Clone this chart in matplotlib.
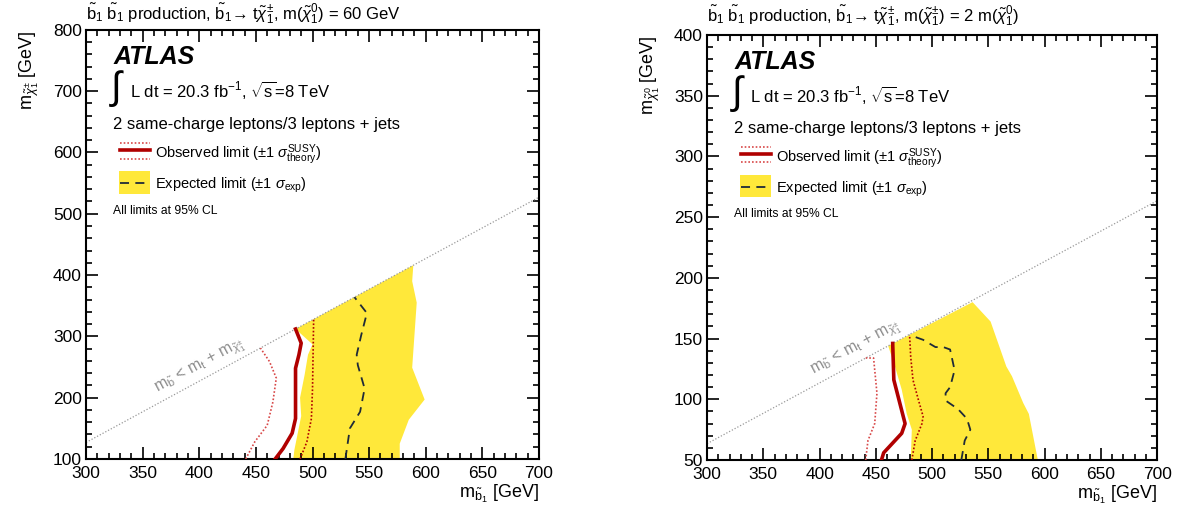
import numpy as np
import matplotlib
matplotlib.use("Agg")
import matplotlib.pyplot as plt
from matplotlib.patches import Rectangle
from matplotlib.ticker import MultipleLocator

plt.rcParams["font.family"] = ["Liberation Sans", "DejaVu Sans"]
plt.rcParams["mathtext.fontset"] = "custom"
plt.rcParams["mathtext.rm"] = "Liberation Sans"
plt.rcParams["mathtext.it"] = "Liberation Sans:italic"
plt.rcParams["mathtext.bf"] = "Liberation Sans:bold"
plt.rcParams["mathtext.sf"] = "Liberation Sans"

M_TOP = 173.0

# ---- left panel: m(chi0) = 60 GeV, y = m(chi+-) ----
l_obs_x = [467, 474, 482, 485, 485, 488, 490, 485]
l_obs_y = [100, 117, 142, 166, 248, 270, 289, 312]
l_obs_dn_x = [441, 449, 460, 465, 468, 462, 454]
l_obs_dn_y = [100, 128, 155, 193, 232, 259, 281]
l_obs_up_x = [489, 495, 499, 500, 501]
l_obs_up_y = [100, 128, 166, 215, 328]
l_exp_x = [529, 533, 542, 546, 540, 539, 543, 548, 537]
l_exp_y = [100, 150, 177, 215, 253, 270, 302, 338, 364]
l_band_lo_x = [483, 484, 490, 489, 493, 496, 500, 485]
l_band_lo_y = [100, 115, 170, 200, 237, 270, 287, 312]
l_band_hi_x = [589, 588, 592, 588, 599, 585, 577, 577]
l_band_hi_y = [416, 390, 355, 249, 197, 164, 125, 100]

# ---- right panel: m(chi+-) = 2 m(chi0), y = m(chi0) ----
r_obs_x = [455, 457, 473, 476, 466, 465]
r_obs_y = [50, 56, 72, 80, 116, 146]
r_obs_dn_x = [441, 443, 449, 451, 448, 441]
r_obs_dn_y = [50, 66, 80, 105, 134, 134]
r_obs_up_x = [482, 485, 491, 492, 488, 483, 481, 480]
r_obs_up_y = [50, 66, 80, 86, 99, 116, 135, 153]
r_exp_x = [526, 529, 534, 531, 523, 512, 512, 516, 520, 516, 510, 503, 492, 480]
r_exp_y = [50, 66, 75, 84, 92, 99, 105, 110, 124, 141, 143, 143, 149, 153]
r_band_lo_x = [481, 482, 477.5, 473, 467, 461]
r_band_lo_y = [50, 75, 88, 108, 127, 144]
r_band_hi_x = [536, 552, 566, 571, 581, 586, 594]
r_band_hi_y = [180, 164, 127, 119, 97, 88, 50]

YELLOW = "#ffe83a"
OBS = "#b00000"
THEO_UP = "#b00000"
THEO_DN = "#d84848"
EXP = "#1f2a38"
GREY = "#999999"


def draw_panel(ax, band_lo, band_hi, obs, obs_dn, obs_up, exp, chi_div, ylim, ymaj, ymin,
               ylabel, diag_xy):
    bx = list(band_lo[0]) + list(band_hi[0])
    by = list(band_lo[1]) + list(band_hi[1])
    ax.fill(bx, by, color=YELLOW, lw=0, zorder=1)
    ax.plot(*exp, color=EXP, lw=1.3, ls=(0, (5, 3.5)), zorder=3)
    ax.plot(*obs_dn, color=THEO_DN, lw=1.2, ls=(0, (1, 1.2)), zorder=3)
    ax.plot(*obs_up, color=THEO_UP, lw=1.2, ls=(0, (1, 1.2)), zorder=3)
    ax.plot(*obs, color=OBS, lw=2.6, zorder=4)

    xs = np.array([300.0, 700.0])
    ax.plot(xs, (xs - M_TOP) / chi_div, color=GREY, lw=0.9, ls=(0, (1, 1.5)), zorder=2)
    ax.text(diag_xy[0], diag_xy[1],
            r"m$_{\tilde{\mathrm{b}}}$ < m$_{\mathrm{t}}$ + m$_{\tilde{\chi}^{\pm}_{1}}$",
            color="#8c8c8c", fontsize=11.5, rotation=28.4, rotation_mode="anchor",
            ha="left", va="bottom")

    ax.set_xlim(300, 700)
    ax.set_ylim(*ylim)
    ax.xaxis.set_major_locator(MultipleLocator(50))
    ax.xaxis.set_minor_locator(MultipleLocator(10))
    ax.yaxis.set_major_locator(MultipleLocator(ymaj))
    ax.yaxis.set_minor_locator(MultipleLocator(ymin))
    ax.tick_params(which="both", direction="in", top=True, right=True, width=1.2,
                   labelsize=12.5, colors="black")
    ax.tick_params(which="major", length=8.5)
    ax.tick_params(which="minor", length=4.3)
    ax.tick_params(axis="x", pad=5)
    ax.tick_params(axis="y", pad=3)
    for s in ax.spines.values():
        s.set_linewidth(1.5)

    ax.set_xlabel(r"m$_{\tilde{\mathrm{b}}_{1}}$ [GeV]", fontsize=13, loc="right")
    ax.xaxis.set_label_coords(1.0, -0.055)
    ax.set_ylabel(ylabel, fontsize=13, loc="top")
    ax.yaxis.set_label_coords(-0.10, 1.0)

    # text block
    ax.text(0.06, 0.92, "ATLAS", transform=ax.transAxes, fontsize=18,
            fontweight="bold", fontstyle="italic", va="baseline")
    ax.text(0.055, 0.862, "\u222b", transform=ax.transAxes, fontsize=28, va="center",
            ha="left")
    ax.text(0.096, 0.843, r"L dt = 20.3 fb$^{-1}$, $\sqrt{\mathrm{s}}$=8 TeV",
            transform=ax.transAxes, fontsize=12, va="baseline")
    ax.text(0.06, 0.77, "2 same-charge leptons/3 leptons + jets",
            transform=ax.transAxes, fontsize=12, va="baseline")

    kx = [0.075, 0.142]
    ax.plot(kx, [0.719, 0.719], transform=ax.transAxes, color=OBS, lw=2.6, clip_on=False)
    ax.plot(kx, [0.737, 0.737], transform=ax.transAxes, color=THEO_DN, lw=1.2,
            ls=(0, (1, 1.2)), clip_on=False)
    ax.plot(kx, [0.700, 0.700], transform=ax.transAxes, color=THEO_DN, lw=1.2,
            ls=(0, (1, 1.2)), clip_on=False)
    ax.text(0.153, 0.702, r"Observed limit ($\pm$1 $\sigma^{\mathrm{SUSY}}_{\mathrm{theory}}$)",
            transform=ax.transAxes, fontsize=10.5, va="baseline")
    ax.add_patch(Rectangle((0.073, 0.618), 0.069, 0.052, transform=ax.transAxes,
                           color=YELLOW, lw=0, clip_on=False))
    ax.plot(kx, [0.642, 0.642], transform=ax.transAxes, color=EXP, lw=1.3,
            ls=(0, (5, 3.5)), clip_on=False)
    ax.text(0.153, 0.629, r"Expected limit ($\pm$1 $\sigma_{\mathrm{exp}}$)",
            transform=ax.transAxes, fontsize=10.5, va="baseline")
    ax.text(0.06, 0.571, "All limits at 95% CL", transform=ax.transAxes,
            fontsize=8.7, va="baseline")


fig = plt.figure(figsize=(11.8, 5.14), dpi=100)
ax1 = fig.add_axes([0.0729, 0.107, 0.3839, 0.835])
ax2 = fig.add_axes([0.5992, 0.105, 0.3814, 0.827])

draw_panel(ax1, (l_band_lo_x, l_band_lo_y), (l_band_hi_x, l_band_hi_y),
           (l_obs_x, l_obs_y), (l_obs_dn_x, l_obs_dn_y), (l_obs_up_x, l_obs_up_y),
           (l_exp_x, l_exp_y), 1.0, (100, 800), 100, 20,
           r"m$_{\tilde{\chi}^{\pm}_{1}}$ [GeV]", (366, 198))
draw_panel(ax2, (r_band_lo_x, r_band_lo_y), (r_band_hi_x, r_band_hi_y),
           (r_obs_x, r_obs_y), (r_obs_dn_x, r_obs_dn_y), (r_obs_up_x, r_obs_up_y),
           (r_exp_x, r_exp_y), 2.0, (50, 400), 50, 10,
           r"m$_{\tilde{\chi}^{0}_{1}}$ [GeV]", (398, 115))

fig.text(0.0729, 1 - 20 / 514,
         r"$\tilde{\mathrm{b}}_{1}$ $\tilde{\mathrm{b}}_{1}$ production, "
         "$\\tilde{\\mathrm{b}}_{1}$\u2192 t$\\tilde{\\chi}^{\\pm}_{1}$, "
         r"m($\tilde{\chi}^{0}_{1}$) = 60 GeV", fontsize=12, va="baseline")
fig.text(0.5992, 1 - 22 / 514,
         r"$\tilde{\mathrm{b}}_{1}$ $\tilde{\mathrm{b}}_{1}$ production, "
         "$\\tilde{\\mathrm{b}}_{1}$\u2192 t$\\tilde{\\chi}^{\\pm}_{1}$, "
         r"m($\tilde{\chi}^{\pm}_{1}$) = 2 m($\tilde{\chi}^{0}_{1}$)", fontsize=12, va="baseline")

fig.savefig("out.png", dpi=100)
